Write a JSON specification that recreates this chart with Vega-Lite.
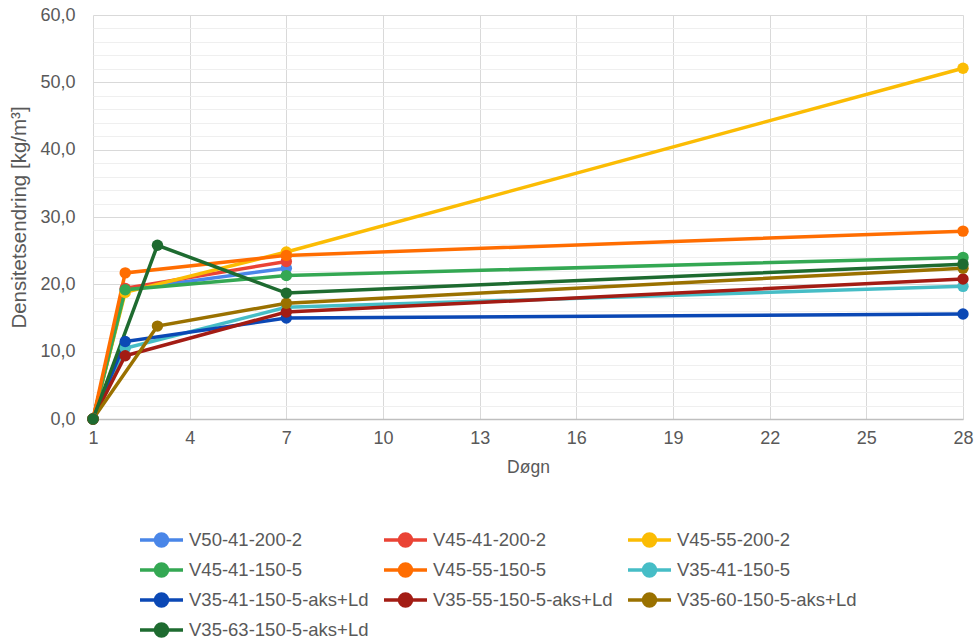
{
  "$schema": "https://vega.github.io/schema/vega-lite/v6.json",
  "width": 870,
  "height": 404,
  "autosize": {"type": "none"},
  "padding": {"left": 93, "top": 15, "right": 16, "bottom": 220},
  "background": "white",
  "config": {
    "view": {"stroke": null},
    "font": "Liberation Sans"
  },
  "data": {
    "values": [
      {"serie": "V50-41-200-2", "dogn": 1, "verdi": 0},
      {"serie": "V50-41-200-2", "dogn": 2, "verdi": 19.2},
      {"serie": "V50-41-200-2", "dogn": 7, "verdi": 22.4},
      {"serie": "V45-41-200-2", "dogn": 1, "verdi": 0},
      {"serie": "V45-41-200-2", "dogn": 2, "verdi": 19.4},
      {"serie": "V45-41-200-2", "dogn": 7, "verdi": 23.4},
      {"serie": "V45-55-200-2", "dogn": 1, "verdi": 0},
      {"serie": "V45-55-200-2", "dogn": 2, "verdi": 18.8},
      {"serie": "V45-55-200-2", "dogn": 7, "verdi": 24.8},
      {"serie": "V45-55-200-2", "dogn": 28, "verdi": 52.1},
      {"serie": "V45-41-150-5", "dogn": 1, "verdi": 0},
      {"serie": "V45-41-150-5", "dogn": 2, "verdi": 19.2},
      {"serie": "V45-41-150-5", "dogn": 7, "verdi": 21.3},
      {"serie": "V45-41-150-5", "dogn": 28, "verdi": 24.0},
      {"serie": "V45-55-150-5", "dogn": 1, "verdi": 0},
      {"serie": "V45-55-150-5", "dogn": 2, "verdi": 21.7},
      {"serie": "V45-55-150-5", "dogn": 7, "verdi": 24.3},
      {"serie": "V45-55-150-5", "dogn": 28, "verdi": 27.9},
      {"serie": "V35-41-150-5", "dogn": 1, "verdi": 0},
      {"serie": "V35-41-150-5", "dogn": 2, "verdi": 10.5},
      {"serie": "V35-41-150-5", "dogn": 7, "verdi": 16.6},
      {"serie": "V35-41-150-5", "dogn": 28, "verdi": 19.7},
      {"serie": "V35-41-150-5-aks+Ld", "dogn": 1, "verdi": 0},
      {"serie": "V35-41-150-5-aks+Ld", "dogn": 2, "verdi": 11.5},
      {"serie": "V35-41-150-5-aks+Ld", "dogn": 7, "verdi": 15.0},
      {"serie": "V35-41-150-5-aks+Ld", "dogn": 28, "verdi": 15.6},
      {"serie": "V35-55-150-5-aks+Ld", "dogn": 1, "verdi": 0},
      {"serie": "V35-55-150-5-aks+Ld", "dogn": 2, "verdi": 9.4},
      {"serie": "V35-55-150-5-aks+Ld", "dogn": 7, "verdi": 15.9},
      {"serie": "V35-55-150-5-aks+Ld", "dogn": 28, "verdi": 20.8},
      {"serie": "V35-60-150-5-aks+Ld", "dogn": 1, "verdi": 0},
      {"serie": "V35-60-150-5-aks+Ld", "dogn": 3, "verdi": 13.8},
      {"serie": "V35-60-150-5-aks+Ld", "dogn": 7, "verdi": 17.2},
      {"serie": "V35-60-150-5-aks+Ld", "dogn": 28, "verdi": 22.4},
      {"serie": "V35-63-150-5-aks+Ld", "dogn": 1, "verdi": 0},
      {"serie": "V35-63-150-5-aks+Ld", "dogn": 3, "verdi": 25.8},
      {"serie": "V35-63-150-5-aks+Ld", "dogn": 7, "verdi": 18.7},
      {"serie": "V35-63-150-5-aks+Ld", "dogn": 28, "verdi": 23.0}
    ]
  },
  "mark": {"type": "line", "strokeWidth": 3.5, "point": {"filled": true, "size": 130, "opacity": 1}},
  "encoding": {
    "x": {
      "field": "dogn", "type": "quantitative",
      "scale": {"domain": [1, 28], "nice": false, "zero": false},
      "axis": {
        "title": "Døgn",
        "values": [1, 4, 7, 10, 13, 16, 19, 22, 25, 28],
        "grid": true, "gridColor": "#d9d9d9", "gridWidth": 1,
        "ticks": false, "labelFlush": false,
        "domain": true, "domainColor": "#bfbfbf", "domainWidth": 1.5,
        "labelFont": "Liberation Sans", "labelFontSize": 18, "labelColor": "#595959", "labelPadding": 10,
        "titleFont": "Liberation Sans", "titleFontSize": 17.5, "titleFontWeight": "normal", "titleColor": "#595959", "titlePadding": 11
      }
    },
    "y": {
      "field": "verdi", "type": "quantitative",
      "scale": {"domain": [0, 60], "nice": false},
      "axis": {
        "title": "Densitetsendring [kg/m³]",
        "values": [0, 2, 4, 6, 8, 10, 12, 14, 16, 18, 20, 22, 24, 26, 28, 30, 32, 34, 36, 38, 40, 42, 44, 46, 48, 50, 52, 54, 56, 58, 60],
        "labelExpr": "datum.value % 10 === 0 ? replace(format(datum.value, '.1f'), '.', ',') : ''",
        "grid": true,
        "gridColor": {"condition": {"test": "datum.value % 10 === 0", "value": "#d9d9d9"}, "value": "#efefef"},
        "gridWidth": 1,
        "ticks": false, "domain": false,
        "labelFont": "Liberation Sans", "labelFontSize": 18, "labelColor": "#595959", "labelPadding": 18,
        "titleFont": "Liberation Sans", "titleFontSize": 20.5, "titleFontWeight": "normal", "titleColor": "#595959", "titlePadding": 10
      }
    },
    "color": {
      "field": "serie", "type": "nominal",
      "scale": {
        "domain": ["V50-41-200-2", "V45-41-200-2", "V45-55-200-2", "V45-41-150-5", "V45-55-150-5", "V35-41-150-5", "V35-41-150-5-aks+Ld", "V35-55-150-5-aks+Ld", "V35-60-150-5-aks+Ld", "V35-63-150-5-aks+Ld"],
        "range": ["#4a86e8", "#ea4335", "#fbbc04", "#34a853", "#ff6d01", "#46bdc6", "#0b48b5", "#a31c14", "#9a7100", "#1e6b30"]
      },
      "legend": {
        "title": null,
        "orient": "none",
        "legendX": 45,
        "legendY": 513,
        "direction": "horizontal",
        "columns": 3,
        "gridAlign": "each",
        "columnPadding": 8,
        "rowPadding": 4,
        "symbolType": "M-1,0H3.3M0.55,0A0.6,0.6 0 1,1 1.75,0A0.6,0.6 0 1,1 0.55,0Z",
        "symbolSize": 400,
        "symbolStrokeWidth": 3.5,
        "labelFont": "Liberation Sans", "labelFontSize": 18.5, "labelColor": "#595959", "labelOffset": 27,
        "labelLimit": 400,
        "encode": {
          "symbols": {"update": {"fill": {"scale": "color", "field": "value"}, "fillOpacity": {"value": 1}}}
        }
      }
    }
  }
}
